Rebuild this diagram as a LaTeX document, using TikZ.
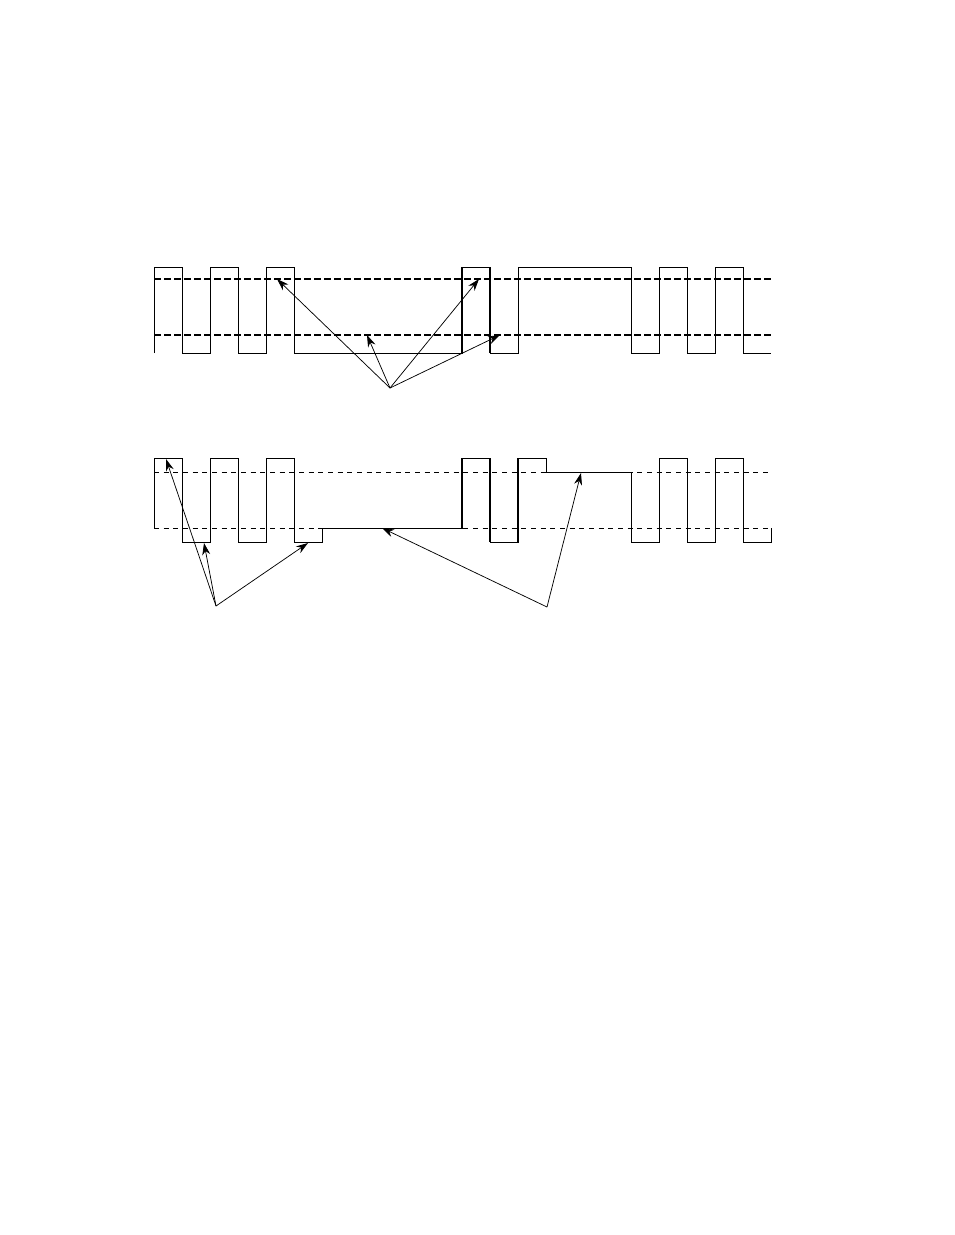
\documentclass[tikz,border=0pt]{standalone}
\usepackage{tikz}
\usetikzlibrary{arrows.meta}

\begin{document}
\begin{tikzpicture}[x=0.75pt,y=-0.75pt,
	wave/.style={line width=0.65pt},
	boldedge/.style={line width=1.4pt},
	thickdash/.style={line width=1.8pt,dash pattern=on 5pt off 2.5pt},
	thindash/.style={line width=0.65pt,dash pattern=on 3.75pt off 3.5pt},
	ptr/.style={line width=0.55pt,-{Stealth[length=9pt,width=6pt]}}]
	\useasboundingbox (0,0) rectangle (954,1235);
	% upper trace
	\draw[thickdash] (154,279) -- (771,279);
	\draw[thickdash] (154,335) -- (771,335);
	\draw[wave] (154,353) -- (154,267) -- (182,267) -- (182,353) -- (210,353) -- (210,267) -- (238,267) -- (238,353) -- (266,353) -- (266,267) -- (294,267) -- (294,353) -- (462,353) -- (462,267) -- (490,267) -- (490,353) -- (518,353) -- (518,267) -- (631,267) -- (631,353) -- (659,353) -- (659,267) -- (687,267) -- (687,353) -- (715,353) -- (715,267) -- (743,267) -- (743,353) -- (771,353);
	\draw[boldedge] (462,353) -- (462,267); \draw[boldedge] (490,267) -- (490,353);
	\coordinate (upsrc) at (390,388);
	\coordinate (upa) at (277,279); \coordinate (upb) at (367,335);
	\coordinate (upc) at (479,279); \coordinate (upd) at (500,335);
	\draw[ptr] (upsrc) -- (upa); \draw[ptr] (upsrc) -- (upb);
	\draw[ptr] (upsrc) -- (upc); \draw[ptr] (upsrc) -- (upd);
	% lower trace
	\draw[thindash] (154,472) -- (771,472);
	\draw[thindash] (154,528) -- (771,528);
	\draw[wave] (154,528) -- (154,458) -- (182,458) -- (182,542) -- (210,542) -- (210,458) -- (238,458) -- (238,542) -- (266,542) -- (266,458) -- (294,458) -- (294,542) -- (322,542) -- (322,528) -- (462,528) -- (462,458) -- (490,458) -- (490,542) -- (518,542) -- (518,458) -- (546,458) -- (546,472) -- (631,472) -- (631,542) -- (659,542) -- (659,458) -- (687,458) -- (687,542) -- (715,542) -- (715,458) -- (743,458) -- (743,542) -- (771,542) -- (771,528);
	\draw[boldedge] (462,528) -- (462,458); \draw[boldedge] (490,458) -- (490,542); \draw[boldedge] (518,542) -- (518,458);
	\coordinate (lowsrc) at (216,606); \coordinate (midsrc) at (547,607);
	\coordinate (lowa) at (166,459); \coordinate (lowb) at (204,543);
	\coordinate (lowc) at (308,543); \coordinate (lowd) at (382,528);
	\coordinate (lowe) at (581,473);
	\draw[ptr] (lowsrc) -- (lowa); \draw[ptr] (lowsrc) -- (lowb);
	\draw[ptr] (lowsrc) -- (lowc);
	\draw[ptr] (midsrc) -- (lowd); \draw[ptr] (midsrc) -- (lowe);
\end{tikzpicture}
\end{document}
